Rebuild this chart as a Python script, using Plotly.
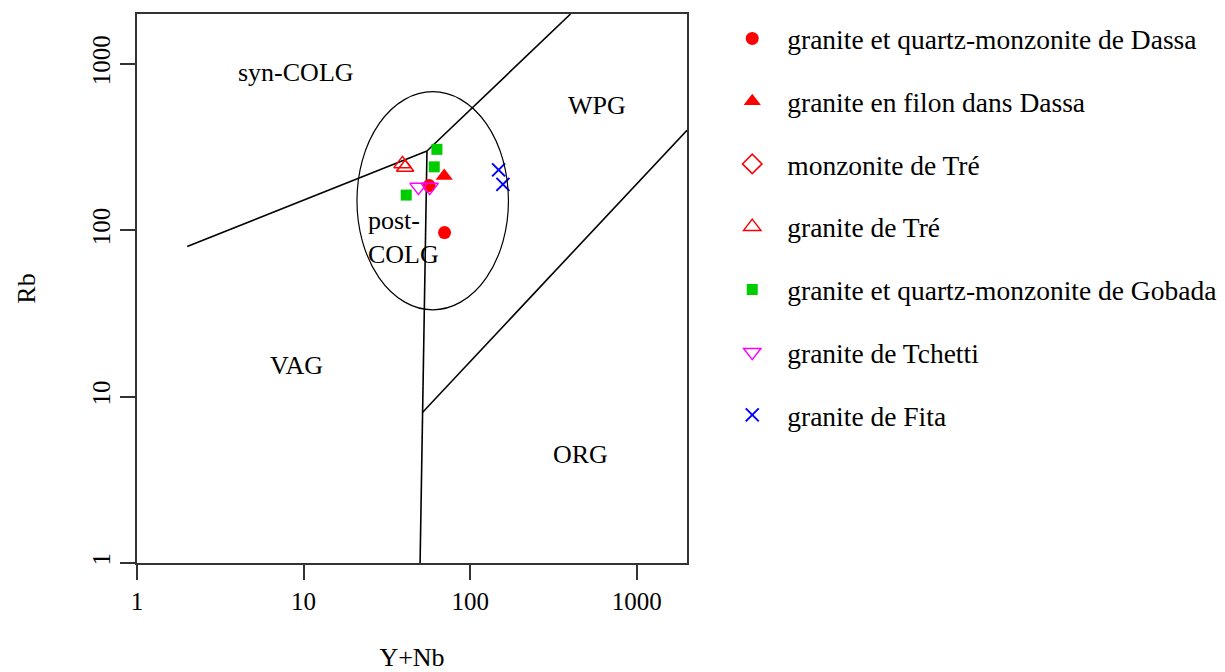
import math
import plotly.graph_objects as go

# sample data, Y+Nb (ppm) vs Rb (ppm)
series_names = [
    "granite et quartz-monzonite de Dassa",
    "granite en filon dans Dassa",
    "monzonite de Tré",
    "granite de Tré",
    "granite et quartz-monzonite de Gobada",
    "granite de Tchetti",
    "granite de Fita",
]
dassa_ynb = [56.7, 70.1]
dassa_rb = [186, 97]
filon_ynb = [69.8]
filon_rb = [212]
monzo_tre_ynb = []
monzo_tre_rb = []
tre_ynb = [39.2, 40.7]
tre_rb = [251, 239]
gobada_ynb = [63.1, 60.8, 41.3]
gobada_rb = [307, 241, 163]
tchetti_ynb = [48.9, 57.1]
tchetti_rb = [182, 182]
fita_ynb = [148, 157]
fita_rb = [231, 189]

# Pearce et al. (1984) field boundaries
boundaries = [
    ([2, 55], [80, 300]),
    ([55, 400], [300, 2000]),
    ([55, 51.5, 50], [300, 8, 1]),
    ([51.5, 2000], [8, 400]),
]
# post-COLG ellipse bounding box
ellipse_x = [20.9, 169.6]
ellipse_y = [33.3, 682]

field_labels = ["syn-COLG", "WPG", "post-<br>COLG", "VAG", "ORG"]
field_x = [9.0, 579, 39.6, 9.1, 458]
field_y = [884, 560, 90, 15.3, 4.5]

FONT = "Liberation Serif, Times New Roman, serif"

fig = go.Figure()

for bx, by in boundaries:
    fig.add_trace(go.Scatter(x=bx, y=by, mode="lines", line=dict(color="black", width=1.6),
                             showlegend=False, hoverinfo="skip"))

styles = [
    (dassa_ynb, dassa_rb, dict(symbol="circle", color="#ff0000", size=13)),
    (filon_ynb, filon_rb, dict(symbol="triangle-up", color="#ff0000", size=15)),
    (monzo_tre_ynb, monzo_tre_rb, dict(symbol="diamond-open", color="#ff0000", size=15, line=dict(width=1.5))),
    (tre_ynb, tre_rb, dict(symbol="triangle-up-open", color="#ff0000", size=15, line=dict(width=1.5))),
    (gobada_ynb, gobada_rb, dict(symbol="square", color="#00cd00", size=11)),
    (tchetti_ynb, tchetti_rb, dict(symbol="triangle-down-open", color="#ff00ff", size=15, line=dict(width=1.5))),
    (fita_ynb, fita_rb, dict(symbol="x-thin-open", color="#0000ff", size=13, line=dict(width=2, color="#0000ff"))),
]
for i, (name, (xs, ys, mk)) in enumerate(zip(series_names, styles)):
    fig.add_trace(go.Scatter(x=xs if xs else [None], y=ys if ys else [None], mode="markers",
                             name=name, marker=mk, legendgroup=f"g{i}"))

fig.add_shape(type="circle", xref="x", yref="y",
              x0=ellipse_x[0], x1=ellipse_x[1], y0=ellipse_y[0], y1=ellipse_y[1],
              line=dict(color="black", width=1.2))

for t, x, y in zip(field_labels, field_x, field_y):
    fig.add_annotation(x=math.log10(x), y=math.log10(y), text=t, showarrow=False,
                       align="left", font=dict(family=FONT, size=26, color="black"))

axis_common = dict(type="log", showline=True, linecolor="#333", linewidth=1.5, mirror=True,
                   ticks="outside", ticklen=15, tickwidth=1.5, tickcolor="#333",
                   showgrid=False, zeroline=False, tickvals=[1, 10, 100, 1000],
                   ticktext=["1", "10", "100", "1000"],
                   tickfont=dict(family=FONT, size=25, color="black"),
                   range=[0, 3.301], automargin=False)

fig.update_xaxes(**axis_common, title=dict(text="Y+Nb", font=dict(family=FONT, size=26), standoff=51))
fig.update_yaxes(**axis_common, tickangle=-90,
                 title=dict(text="Rb", font=dict(family=FONT, size=26), standoff=45))

# page body adds an 8px offset, so the figure is sized to the window minus that
fig.update_layout(
    width=1217, height=664,
    margin=dict(l=129, r=538, t=6, b=109, autoexpand=False),
    paper_bgcolor="white", plot_bgcolor="white",
    font=dict(family=FONT, color="black"),
    legend=dict(x=1.055, y=1.0, xanchor="left", yanchor="top", tracegroupgap=24,
                font=dict(family=FONT, size=27.5, color="black"), itemwidth=60,
                bgcolor="rgba(0,0,0,0)"),
)

fig.write_html("out.html")
